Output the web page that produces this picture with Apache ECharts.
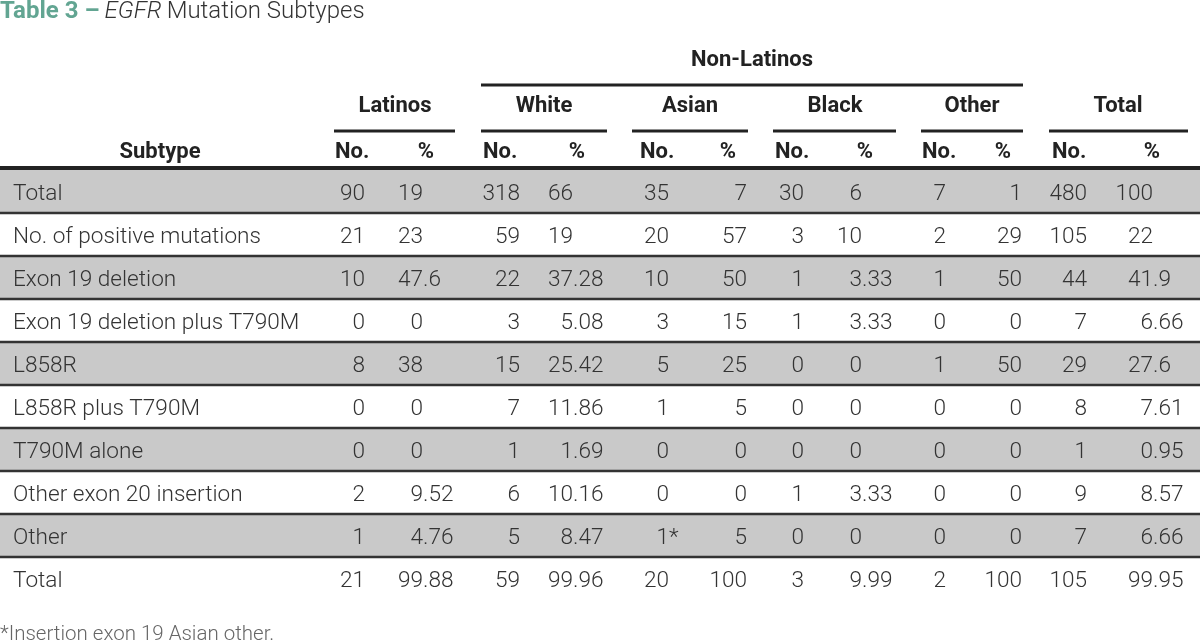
<!DOCTYPE html>
<html>
<head>
<meta charset="utf-8">
<script src="https://cdn.jsdelivr.net/npm/echarts@6/dist/echarts.min.js"></script>
<style>html,body{margin:0;padding:0;background:#fff}#c{width:1200px;height:641px}</style>
</head>
<body>
<div id="c"></div>
<script>
// ---- data ----
const subtypes = ['Total','No. of positive mutations','Exon 19 deletion','Exon 19 deletion plus T790M','L858R','L858R plus T790M','T790M alone','Other exon 20 insertion','Other','Total'];
const groups = ['Latinos','White','Asian','Black','Other','Total'];
const latinosNo  = ['90','21','10','0','8','0','0','2','1','21'];
const latinosPct = ['19','23','47.6','0','38','0','0','9.52','4.76','99.88'];
const whiteNo    = ['318','59','22','3','15','7','1','6','5','59'];
const whitePct   = ['66','19','37.28','5.08','25.42','11.86','1.69','10.16','8.47','99.96'];
const asianNo    = ['35','20','10','3','5','1','0','0','1*','20'];
const asianPct   = ['7','57','50','15','25','5','0','0','5','100'];
const blackNo    = ['30','3','1','1','0','0','0','1','0','3'];
const blackPct   = ['6','10','3.33','3.33','0','0','0','3.33','0','9.99'];
const otherNo    = ['7','2','1','0','1','0','0','0','0','2'];
const otherPct   = ['1','29','50','0','50','0','0','0','0','100'];
const totalNo    = ['480','105','44','7','29','8','1','9','7','105'];
const totalPct   = ['100','22','41.9','6.66','27.6','7.61','0.95','8.57','6.66','99.95'];
const footnote = '*Insertion exon 19 Asian other.';

// ---- layout ----
const FONT = 'Roboto, "Liberation Sans", sans-serif';
const BODY = '300 22.6px ' + FONT;
const HEAD = 'bold 22px ' + FONT;
const TEXT_DY = 2.5;
const noAnchor  = [365, 520, 669, 804, 946, 1087];
const pctAnchor = [423, 573, 747, 862, 1022, 1153];
const noCols  = [latinosNo, whiteNo, asianNo, blackNo, otherNo, totalNo];
const pctCols = [latinosPct, whitePct, asianPct, blackPct, otherPct, totalPct];
const groupCenter = [395, 544, 690, 835, 972, 1118];
const groupLine = [[334,455],[481,607],[632,748],[773,896],[921,1023],[1049,1188]];
const noHeadX = [335, 483, 640, 775, 922, 1052];
const pctHeadX = [426, 577, 728, 865, 1003, 1152];

const bodyColor = '#333';
const headColor = '#222';

const chart = echarts.init(document.getElementById('c'), null, {renderer:'canvas'});

function cellTexts(api, s, anchor, r) {
  const m = String(s).match(/^(\d*)(.*)$/);
  const p = api.coord([anchor, r]);
  const out = [];
  const base = {font: BODY, fill: bodyColor, verticalAlign: 'middle'};
  if (m[1]) out.push({type:'text', x:p[0], y:p[1]+TEXT_DY, z2:20, style:Object.assign({text:m[1], align:'right'}, base)});
  if (m[2]) out.push({type:'text', x:p[0], y:p[1]+TEXT_DY, z2:20, style:Object.assign({text:m[2], align:'left'}, base)});
  return out;
}

const graphics = [];
function txt(text, x, y, align, bold) {
  graphics.push({type:'text', x, y: y + TEXT_DY, style:{text, align, verticalAlign:'middle', font: bold ? HEAD : BODY, fill: bold?headColor:bodyColor}});
}
function hline(x1, x2, y, w) {
  graphics.push({type:'line', shape:{x1, y1:y, x2, y2:y}, style:{stroke:'#222', lineWidth:w}});
}
txt('Non-Latinos', 752, 58, 'center', true);
hline(481, 1023, 85, 3);
groups.forEach((g,i) => {
  txt(g, groupCenter[i], 104, 'center', true);
  hline(groupLine[i][0], groupLine[i][1], 131, 3);
  txt('No.', noHeadX[i], 150, 'left', true);
  txt('%', pctHeadX[i], 150, 'center', true);
});
txt('Subtype', 160, 150, 'center', true);
hline(0, 1200, 168, 4);
graphics.push({type:'text', x:0, y:632 + TEXT_DY, style:{text:footnote, align:'left', verticalAlign:'middle', font:'300 20.5px '+FONT, fill:'#666'}});

chart.setOption({
  animation: false,
  title: {
    left: 0, top: 0, padding: 0,
    text: '{a|Table 3 –} {b|EGFR} {c|Mutation Subtypes}',
    textStyle: {
      fontWeight: 'normal',
      rich: {
        a: {fontFamily: FONT, fontSize: 24, fontWeight: 'bold', color: '#62a592'},
        b: {fontFamily: FONT, fontSize: 24, fontWeight: 300, fontStyle: 'italic', color: '#333'},
        c: {fontFamily: FONT, fontSize: 24, fontWeight: 300, color: '#333'}
      }
    }
  },
  grid: {left: 0, right: 0, top: 170, height: 430},
  xAxis: {type: 'value', min: 0, max: 1200, show: false},
  yAxis: {type: 'category', inverse: true, data: subtypes.map((s,i)=>String(i)), show: false},
  graphic: graphics,
  series: [{
    type: 'custom',
    coordinateSystem: 'cartesian2d',
    data: subtypes.map((s,i) => [0, i]),
    encode: {x: 0, y: 1},
    renderItem: function(params, api) {
      const r = api.value(1);
      const c0 = api.coord([0, r]);
      const c1 = api.coord([1200, r]);
      const h = api.size([0, 1])[1];
      const top = c0[1] - h/2;
      const children = [];
      if (r % 2 === 0) children.push({type:'rect', z2:0, shape:{x:c0[0], y:top, width:c1[0]-c0[0], height:h}, style:{fill:'#c9c9c9'}});
      if (r < subtypes.length - 1) children.push({type:'line', z2:10, shape:{x1:c0[0], y1:top+h, x2:c1[0], y2:top+h}, style:{stroke:'#333', lineWidth:2.5}});
      const lp = api.coord([13, r]);
      children.push({type:'text', x:lp[0], y:lp[1]+TEXT_DY, z2:20, style:{text:subtypes[r], align:'left', verticalAlign:'middle', font:BODY, fill:bodyColor}});
      for (let k = 0; k < groups.length; k++) {
        children.push(...cellTexts(api, noCols[k][r], noAnchor[k], r));
        children.push(...cellTexts(api, pctCols[k][r], pctAnchor[k], r));
      }
      return {type:'group', children};
    }
  }]
});
</script>
</body>
</html>
